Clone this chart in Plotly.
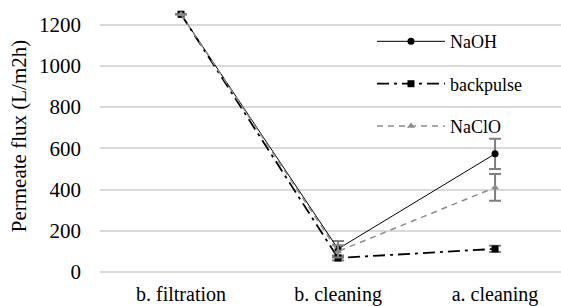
import plotly.graph_objects as go

categories = ["b. filtration", "b. cleaning", "a. cleaning"]
naoh = [1250, 112, 573]
naoh_err = [0, 38, 73]
backpulse = [1250, 68, 112]
backpulse_err = [0, 12, 15]
naclo = [1250, 100, 410]
naclo_err = [0, 30, 65]
yticks = [0, 200, 400, 600, 800, 1000, 1200]

FONT = "Liberation Serif"
ERRC = "#7f7f7f"

fig = go.Figure()
fig.add_trace(go.Scatter(
    x=categories, y=naoh, name="NaOH", mode="lines+markers",
    line=dict(color="black", width=1),
    marker=dict(symbol="circle", size=7, color="black"),
    error_y=dict(type="data", array=naoh_err, color=ERRC, thickness=2, width=6),
    legendgroup="a"))
fig.add_trace(go.Scatter(
    x=categories, y=backpulse, name="backpulse", mode="lines+markers",
    line=dict(color="black", width=1.8, dash="12px,5px,3px,5px"),
    marker=dict(symbol="square", size=7, color="black"),
    error_y=dict(type="data", array=backpulse_err, color=ERRC, thickness=2, width=6),
    legendgroup="b"))
fig.add_trace(go.Scatter(
    x=categories, y=naclo, name="NaClO", mode="lines+markers",
    line=dict(color="#8c8c8c", width=1.5, dash="6px,5px"),
    marker=dict(symbol="triangle-up", size=7, color="#8c8c8c"),
    error_y=dict(type="data", array=naclo_err, color=ERRC, thickness=2, width=6),
    legendgroup="c"))

fig.update_layout(
    width=561, height=306,
    margin=dict(l=100, r=0, t=0, b=34),
    paper_bgcolor="white", plot_bgcolor="white",
    font=dict(family=FONT, size=20, color="black"),
    showlegend=True,
    legend=dict(x=0.59, y=0.915, xanchor="left", yanchor="top",
                bgcolor="rgba(255,255,255,0)", tracegroupgap=16,
                itemwidth=68,
                font=dict(family=FONT, size=18, color="black")),
    xaxis=dict(type="category", range=[-0.516, 2.42],
               showgrid=False, showline=False, zeroline=False, ticks="",
               ticklabelstandoff=8,
               tickfont=dict(family=FONT, size=20)),
    yaxis=dict(range=[0, 1319], tickvals=yticks, showgrid=True,
               gridcolor="#d9d9d9", gridwidth=1.5, zeroline=True,
               zerolinecolor="#d9d9d9", zerolinewidth=1.5, showline=False,
               ticks="", ticklabelstandoff=18,
               tickfont=dict(family=FONT, size=21),
               title=dict(text="Permeate flux (L/m2h)", standoff=6,
                          font=dict(family=FONT, size=21))),
)

fig.write_html("out.html", config={"displayModeBar": False},
               post_script="document.body.style.margin='0';document.body.style.overflow='hidden';")
